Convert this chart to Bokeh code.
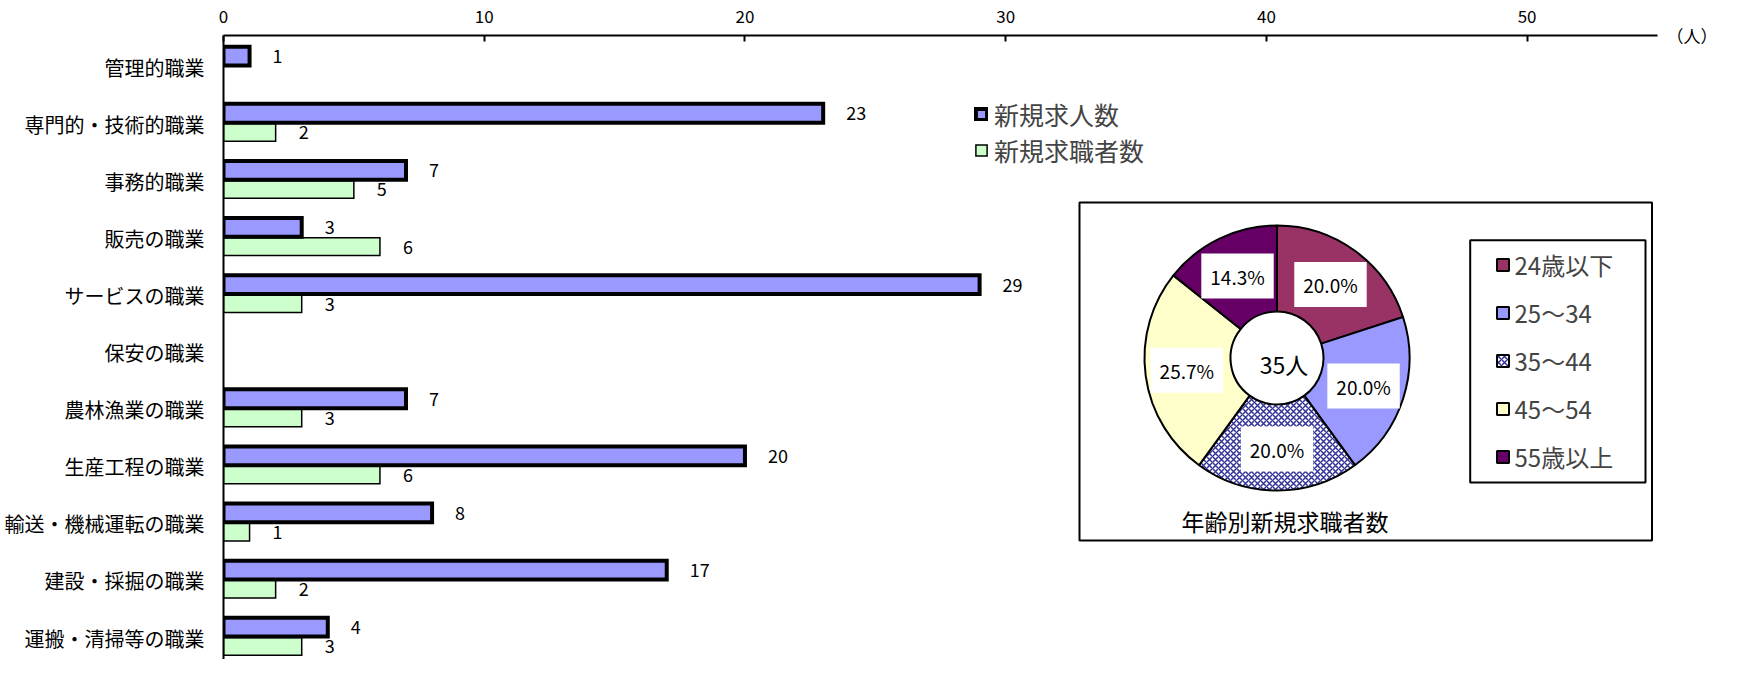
import math
from bokeh.plotting import figure
from bokeh.models import (ColumnDataSource, Range1d, FixedTicker, Legend, LegendItem,
                          BoxAnnotation, LinearAxis)
from bokeh.core.properties import value
from bokeh.embed import file_html
from bokeh.resources import INLINE

# ---------------- data ----------------
categories = ["管理的職業", "専門的・技術的職業", "事務的職業", "販売の職業", "サービスの職業",
              "保安の職業", "農林漁業の職業", "生産工程の職業", "輸送・機械運転の職業",
              "建設・採掘の職業", "運搬・清掃等の職業"]
job_offers = [1, 23, 7, 3, 29, 0, 7, 20, 8, 17, 4]      # 新規求人数
job_seekers = [0, 2, 5, 6, 3, 0, 3, 6, 1, 2, 3]         # 新規求職者数
series_names = ["新規求人数", "新規求職者数"]
x_ticks = [0, 10, 20, 30, 40, 50]
x_unit = "（人）"

age_groups = ["24歳以下", "25～34", "35～44", "45～54", "55歳以上"]
age_counts = [7, 7, 7, 9, 5]
age_colors = ["#993366", "#9999FF", "#FFFFFF", "#FFFFCC", "#660066"]
age_hatch = [" ", " ", "x", " ", " "]
pie_center_text = "35人"
pie_title = "年齢別新規求職者数"

# ---------------- layout ----------------
FONT = "Noto Sans CJK JP"
W, H = 1724, 659
ML, MR, MT, MB = 223, 67, 35, 0
FX0, FX1 = 8 + ML, 8 + W - MR          # page x of frame
FY0, FY1 = 8 + MT, 8 + H - MB          # page y of frame
ROW0, ROW = 74.5, 57.1
X_MAX = 55
y_top = (FY0 - ROW0) / ROW
y_bot = (FY1 - ROW0) / ROW

p = figure(width=W, height=H, output_backend="svg", toolbar_location=None,
           x_range=Range1d(0, X_MAX), y_range=Range1d(y_bot, y_top),
           x_axis_location="above",
           min_border_left=ML, min_border_right=MR, min_border_top=MT, min_border_bottom=MB)
p.grid.visible = False
p.outline_line_color = None
p.background_fill_color = "white"
p.border_fill_color = "white"

xa = p.xaxis[0]
xa.ticker = FixedTicker(ticks=x_ticks)
xa.axis_line_width = 2
xa.axis_line_color = "black"
xa.major_tick_in = 6
xa.major_tick_out = 0
xa.major_tick_line_width = 2
xa.minor_tick_line_color = None
xa.major_label_text_font = FONT
xa.major_label_text_font_size = "17px"
xa.major_label_text_color = "black"
xa.major_label_standoff = 13

ya = p.yaxis[0]
ya.ticker = FixedTicker(ticks=list(range(len(categories))))
ya.major_label_overrides = {i: c for i, c in enumerate(categories)}
ya.axis_line_width = 2
ya.axis_line_color = "black"
ya.major_tick_in = 0
ya.major_tick_out = 0
ya.minor_tick_line_color = None
ya.major_label_text_font = FONT
ya.major_label_text_font_size = "20px"
ya.major_label_text_color = "black"
ya.major_label_standoff = 19

# unit label "（人）" at the end of the value axis, as the single label of a bare right axis
UNIT_TICK = round(y_top + 0.002, 3)
unit_axis = LinearAxis(ticker=FixedTicker(ticks=[UNIT_TICK]),
                       major_label_overrides={UNIT_TICK: x_unit},
                       axis_line_color=None, major_tick_line_color=None,
                       minor_tick_line_color=None, major_tick_in=0, major_tick_out=0,
                       major_label_standoff=9,
                       major_label_text_font=FONT, major_label_text_font_size="17px",
                       major_label_text_color="black")
p.add_layout(unit_axis, "right")

# ---------------- bars ----------------
OFF_OFFER, OFF_SEEK = -0.19, 0.145
BH_OFFER, BH_SEEK = 0.33, 0.31
seek_idx = [i for i, v in enumerate(job_seekers) if v > 0]
offer_idx = [i for i, v in enumerate(job_offers) if v > 0]
seek_src = ColumnDataSource(dict(y=[i + OFF_SEEK for i in seek_idx],
                                 v=[job_seekers[i] for i in seek_idx],
                                 t=[str(job_seekers[i]) for i in seek_idx]))
offer_src = ColumnDataSource(dict(y=[i + OFF_OFFER for i in offer_idx],
                                  v=[job_offers[i] for i in offer_idx],
                                  t=[str(job_offers[i]) for i in offer_idx]))

g = p.hbar(y="y", left=0, right="v", height=BH_SEEK, source=seek_src,
           fill_color="#CCFFCC", line_color="black", line_width=1.5, line_join="miter")
b = p.hbar(y="y", left=0, right="v", height=BH_OFFER, source=offer_src,
           fill_color="#9999FF", line_color="black", line_width=4, line_join="miter")

for src in (seek_src, offer_src):
    p.text(x="v", y="y", text="t", source=src, x_offset=23, text_align="left",
           text_baseline="middle", text_font=value(FONT), text_font_size="18px",
           text_color="black")

leg = Legend(items=[LegendItem(label=series_names[0], renderers=[b]),
                    LegendItem(label=series_names[1], renderers=[g])],
             location=(982 - FX0, FY1 - 176), glyph_width=14, glyph_height=14,
             label_height=33, spacing=0, padding=0, margin=0, label_standoff=6,
             label_text_font=FONT, label_text_font_size="25px",
             background_fill_alpha=0, border_line_alpha=0)
p.add_layout(leg)

# page-pixel ranges for the inset elements
p.extra_x_ranges = {"px": Range1d(FX0, FX1)}
p.extra_y_ranges = {"py": Range1d(FY1, FY0)}

# ---------------- pie (donut) ----------------
CX, CY, R_OUT, R_IN, R_LBL = 1284.5, 365.5, 132.5, 46.5, 91

p.add_layout(BoxAnnotation(left=1087, right=1659.5, top=210, bottom=548,
                           x_range_name="px", y_range_name="py",
                           fill_color="white", fill_alpha=1, line_color="black",
                           line_alpha=1, line_width=2, level="underlay"))
p.add_layout(BoxAnnotation(left=1477.7, right=1653, top=247.7, bottom=490,
                           x_range_name="px", y_range_name="py",
                           fill_color="white", fill_alpha=1, line_color="black",
                           line_alpha=1, line_width=2, level="underlay"))

total = sum(age_counts)
starts, ends, lx, ly, pct = [], [], [], [], []
cum = 0
for c in age_counts:
    c0 = cum / total
    cum += c
    c1 = cum / total
    a_start = math.pi / 2 - 2 * math.pi * c1
    a_end = math.pi / 2 - 2 * math.pi * c0
    starts.append(a_start)
    ends.append(a_end)
    mid = (a_start + a_end) / 2
    lx.append(CX + R_LBL * math.cos(mid))
    ly.append(CY - R_LBL * math.sin(mid))
    pct.append(f"{c / total * 100:.1f}%")

pie_src = ColumnDataSource(dict(start=starts, end=ends, color=age_colors, hatch=age_hatch,
                                lx=lx, ly=ly, pct=pct))
wr = p.annular_wedge(x=CX, y=CY, inner_radius=R_IN, outer_radius=R_OUT,
                     start_angle="start", end_angle="end", direction="anticlock",
                     fill_color="color", line_color="black", line_width=2,
                     hatch_pattern="hatch", hatch_color="#333399", hatch_scale=6,
                     hatch_weight=1.5, source=pie_src, x_range_name="px", y_range_name="py")

p.text(x="lx", y="ly", text="pct", source=pie_src, x_range_name="px", y_range_name="py",
       text_align="center", text_baseline="middle", text_font=value(FONT),
       text_font_size="19px", text_color="black", background_fill_color="white",
       padding=9)

p.text(x=[CX + 7], y=[CY + 6], text=[pie_center_text], x_range_name="px", y_range_name="py",
       text_align="center", text_baseline="middle", text_font=value(FONT),
       text_font_size="23px", text_color="black")
p.text(x=[1292.5], y=[528], text=[pie_title], x_range_name="px", y_range_name="py",
       text_align="center", text_baseline="middle", text_font=value(FONT),
       text_font_size="23px", text_color="black")

pleg = Legend(items=[LegendItem(label=age_groups[i], renderers=[wr], index=i)
                     for i in range(len(age_groups))],
              location=(1502.5 - FX0, FY1 - 488.7), glyph_width=15, glyph_height=15,
              label_height=48, spacing=0, padding=0, margin=0, label_standoff=5,
              label_text_font=FONT, label_text_font_size="24px",
              background_fill_alpha=0, border_line_alpha=0)
p.add_layout(pleg)

open("out.html", "w").write(file_html(p, INLINE))
